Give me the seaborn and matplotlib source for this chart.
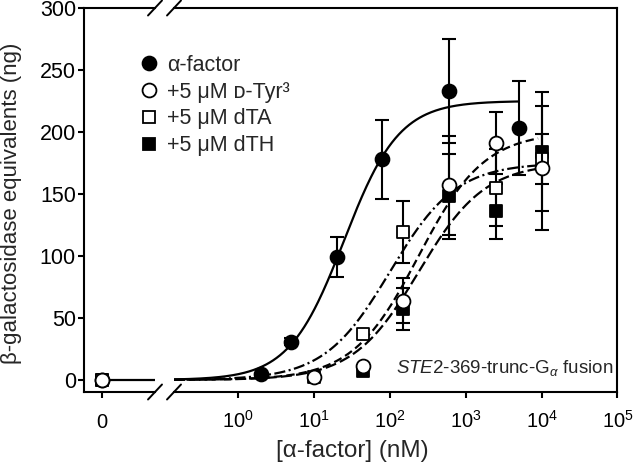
import numpy as np
import pandas as pd
import matplotlib
matplotlib.use("Agg")
import matplotlib.pyplot as plt
import seaborn as sns
from matplotlib.lines import Line2D
from matplotlib.ticker import NullLocator

# ---------------- data ----------------
alpha_conc = [0, 2, 5, 20, 80, 600, 5000]
alpha_resp = [0, 5, 31, 99, 178, 233, 203]
alpha_err = [0, 0, 3, 16, 32, 42, 38]

dtyr_conc = [0, 10, 45, 150, 600, 2500, 10000]
dtyr_resp = [0, 2, 11, 64, 157, 191, 171]
dtyr_err = [0, 0, 0, 18, 40, 25, 50]

dta_conc = [0, 10, 45, 150, 2500, 10000]
dta_resp = [0, 2, 37, 119, 155, 178]
dta_err = [0, 0, 0, 25, 31, 20]

dth_conc = [0, 45, 150, 600, 2500, 10000]
dth_resp = [0, 7, 57, 148, 136, 184]
dth_err = [0, 0, 17, 34, 22, 48]

series_labels = ["\u03b1-factor", "+5 \u03bcM \u1d05-Tyr\u00b3", "+5 \u03bcM dTA", "+5 \u03bcM dTH"]

# fitted dose-response curves (top, EC50 in nM, Hill slope, last concentration)
fit_top = [225, 200, 175, 175]
fit_ec50 = [25, 240, 101, 242]
fit_hill = [1.2, 1.0, 1.0, 1.0]
fit_end = [5000, 9000, 9000, 9000]

ytick_vals = [0, 50, 100, 150, 200, 250, 300]
xtick_log_vals = [1e0, 1e1, 1e2, 1e3, 1e4, 1e5]
xtick_log_labels = [r"$10^{0}$", r"$10^{1}$", r"$10^{2}$", r"$10^{3}$", r"$10^{4}$", r"$10^{5}$"]
annotation = r"$\mathit{STE2}$-369-trunc-G$_{\alpha}$ fusion"
xlabel = "[\u03b1-factor] (nM)"
ylabel = "\u03b2-galactosidase equivalents (ng)"

# ---------------- style ----------------
sns.set_style("ticks")
plt.rcParams["font.family"] = ["Liberation Sans", "DejaVu Sans"]
plt.rcParams["mathtext.fontset"] = "custom"
plt.rcParams["mathtext.rm"] = "Liberation Sans"
plt.rcParams["mathtext.it"] = "Liberation Sans:italic"
plt.rcParams["mathtext.bf"] = "Liberation Sans:bold"
plt.rcParams["lines.scale_dashes"] = False

W, H = 633, 473
fig = plt.figure(figsize=(W / 100, H / 100), dpi=100)


def fx(px):
    return px / W


def fy(py):
    return 1 - py / H


LW = 1.5
ax0 = fig.add_axes([fx(84), fy(392), fx(155) - fx(84), fy(8) - fy(392)])
ax1 = fig.add_axes([fx(174), fy(392), fx(617.5) - fx(174), fy(8) - fy(392)])

ylim = (-9.7, 300)
for ax in (ax0, ax1):
    ax.set_ylim(*ylim)
    for s in ax.spines.values():
        s.set_linewidth(LW)
        s.set_color("black")
    ax.set_facecolor("white")

ax0.set_xlim(-1, 2.944)
ax0.spines["right"].set_visible(False)
ax1.spines["left"].set_visible(False)
ax1.set_xscale("log")
ax1.set_xlim(10 ** -0.842, 10 ** 5.0)
ax1.xaxis.set_minor_locator(NullLocator())

# ---------------- curves ----------------
curve_styles = ["-", (0, (6, 3)), (0, (8, 2.5, 1.5, 2.5)), (0, (8, 3))]
xmin_log = 10 ** -0.842
for top, ec50, hill, xend, ls in zip(fit_top, fit_ec50, fit_hill, fit_end, curve_styles):
    xs = np.logspace(np.log10(xmin_log), np.log10(xend), 300)
    ys = top / (1 + (ec50 / xs) ** hill)
    sns.lineplot(x=xs, y=ys, ax=ax1, color="black", linewidth=1.6,
                 linestyle=ls, estimator=None, sort=False, zorder=2)

# horizontal baseline in the zero segment
ax0.plot([0, 3], [0, 0], color="black", linewidth=1.6, zorder=2)

# ---------------- points ----------------
series = [
    (alpha_conc, alpha_resp, alpha_err, "o", "black", 10),
    (dth_conc, dth_resp, dth_err, "s", "black", 9),
    (dta_conc, dta_resp, dta_err, "s", "white", 9),
    (dtyr_conc, dtyr_resp, dtyr_err, "o", "white", 10),
]

z = 3
for conc, resp, err, mk, fc, ms in series:
    df = pd.DataFrame({"c": conc, "r": resp, "e": err})
    for ax, sub in ((ax0, df[df.c == 0]), (ax1, df[df.c > 0])):
        eb = sub[sub.e > 0]
        if len(eb):
            ax.errorbar(eb.c, eb.r, yerr=eb.e, fmt="none", ecolor="black",
                        elinewidth=1.5, capsize=5, capthick=1.5, zorder=z)
        sns.scatterplot(x=sub.c.values, y=sub.r.values, ax=ax, marker=mk, s=ms ** 2,
                        color=fc, edgecolor="black", linewidth=1.3, zorder=z + 0.5,
                        clip_on=False, legend=False)
    z += 1

# ---------------- ticks ----------------
ax0.set_yticks(ytick_vals)
ax0.set_yticklabels([str(v) for v in ytick_vals])
ax0.tick_params(axis="y", direction="out", length=6 * 0.72, width=LW, pad=1.5,
                labelsize=15.5, colors="black")
ax0.set_xticks([0])
ax0.set_xticklabels(["0"])
ax1.set_xticks(xtick_log_vals)
ax1.set_xticklabels(xtick_log_labels)
ax1.tick_params(axis="y", left=False, right=False, labelleft=False)
for ax in (ax0, ax1):
    ax.tick_params(axis="x", direction="out", length=6 * 0.72, width=LW, pad=21.5,
                   labelsize=14.5, colors="black")
    for lbl in ax.get_xticklabels():
        lbl.set_verticalalignment("baseline")

# ---------------- axis break marks ----------------
for cx in (155, 174):
    for cy in (392, 8):
        fig.add_artist(Line2D([fx(cx - 7), fx(cx + 7)], [fy(cy + 7.5), fy(cy - 7.5)],
                              color="black", linewidth=1.4, transform=fig.transFigure))

# ---------------- labels ----------------
fig.text(fx(352), fy(451), xlabel, ha="center", va="center", fontsize=17.5)
fig.text(fx(12), fy(203), ylabel, ha="center", va="center", rotation=90, fontsize=16)
fig.text(fx(613), fy(373), annotation, ha="right", va="baseline", fontsize=13.5)

# ---------------- legend ----------------
handles = [
    Line2D([], [], linestyle="none", marker="o", markersize=10, markerfacecolor="black",
           markeredgecolor="black", markeredgewidth=1.3),
    Line2D([], [], linestyle="none", marker="o", markersize=10, markerfacecolor="white",
           markeredgecolor="black", markeredgewidth=1.3),
    Line2D([], [], linestyle="none", marker="s", markersize=9, markerfacecolor="white",
           markeredgecolor="black", markeredgewidth=1.3),
    Line2D([], [], linestyle="none", marker="s", markersize=9, markerfacecolor="black",
           markeredgecolor="black", markeredgewidth=1.3),
]
fig.legend(handles, series_labels, loc="upper left",
           bbox_to_anchor=(fx(140.4), fy(54.7)), frameon=False, fontsize=15.5,
           handlelength=0.8, handletextpad=0.44, labelspacing=0.27,
           borderpad=0, borderaxespad=0)

fig.savefig("out.png", dpi=100, facecolor="white")
